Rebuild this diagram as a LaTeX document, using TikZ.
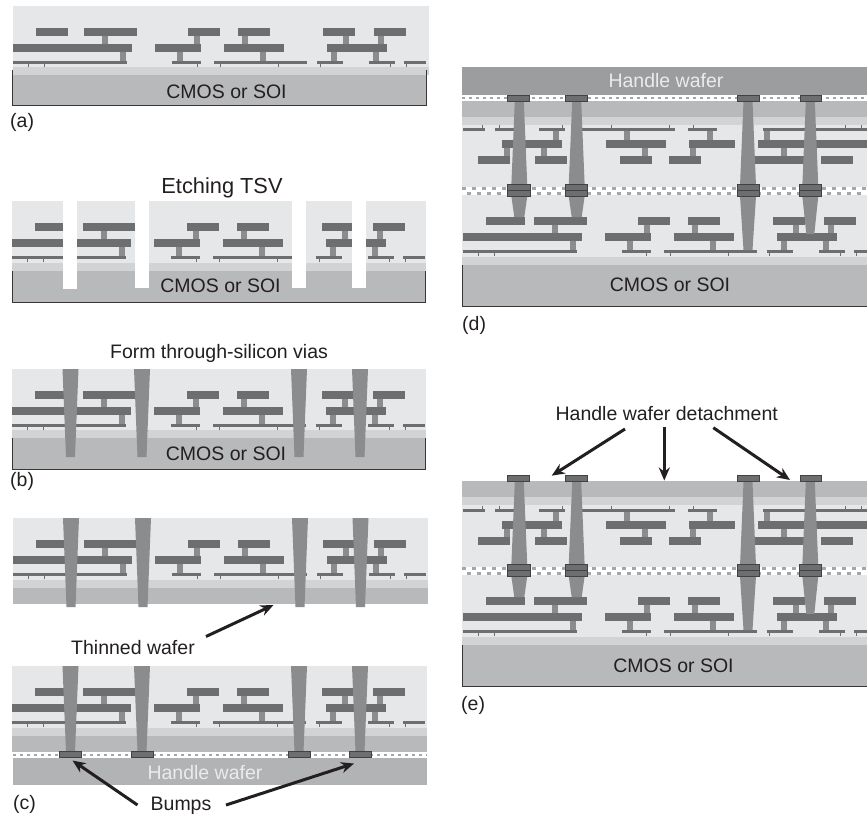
\documentclass[tikz,border=0pt]{standalone}
\usepackage{fontspec}
\setmainfont{Liberation Sans}
\usetikzlibrary{arrows.meta}
\definecolor{lightox}{HTML}{E6E7E8}
\definecolor{oxide}{HTML}{D1D3D4}
\definecolor{basegr}{HTML}{B8B9BB}
\definecolor{handlelt}{HTML}{B2B3B5}
\definecolor{handledk}{HTML}{9C9D9F}
\definecolor{metal}{HTML}{6D6E70}
\definecolor{viagr}{HTML}{8A8C8E}
\definecolor{squaregr}{HTML}{A5A6A8}
\definecolor{inkc}{HTML}{231F20}
\newcommand{\hbars}[3]{\foreach \pa/\pb in {#3} \fill[metal] (\pa,#1) rectangle (\pb,#2);}
\newcommand{\vbars}[3]{\foreach \pa/\pb in {#3} \fill[viagr] (\pa,#1) rectangle (\pb,#2);}
\newcommand{\stackup}[2]{\begin{scope}[shift={(#1,#2)}]
  \vbars{36}{44}{102/108,194/200,242/248,343/349,378/384}
  \vbars{52}{61}{120/126,177/183,260/266,331/337,373/379}
  \hbars{28}{36}{36/68,84/137,188/220,238/270,323/355,374/406}
  \hbars{44}{52}{13/132,155/201,224/284,327/387}
  \hbars{61}{64}{13/127,172/201,214/307,317/343,369/395,404/426}
  \foreach \pc in {28.5,44.5,197,220.5,278.5,320,390.5,406.5} \fill[metal] (\pc-.5,64) rectangle (\pc+.5,67);
\end{scope}}
\newcommand{\stackdown}[1]{\begin{scope}[shift={(0,#1)}]
  \vbars{148}{156}{504/510,541/547,642/648,690/696,781/787}
  \vbars{131}{140}{553/559,624/630,707/713,764/770}
  \hbars{156}{164}{478/510,535/567,620/652,669/701,752/805,821/853}
  \hbars{140}{148}{502/562,606/666,689/735,758/867}
  \hbars{128}{131}{463/485,495/521,539/565,582/675,688/717,763/867}
  \foreach \pc in {482.5,499,562,611,669,693,845,861} \fill[metal] (\pc-.5,125) rectangle (\pc+.5,128);
\end{scope}}
\newcommand{\wafer}[6]{% x1,x2,top,ox,base,bottom
  \fill[lightox] (#1,#3) rectangle (#2,#4);
  \fill[oxide] (#1,#4) rectangle (#2,#5);
  \fill[basegr] (#1,#5) rectangle (#2,#6);}
\newcommand{\rim}[4]{\draw[rimline] (#1,#3) -- (#1,#4) -- (#2,#4) -- (#2,#3);}
\newcommand{\tvia}[5]{\fill[viagr] (#1-#3/2,#2) -- (#1+#3/2,#2) -- (#1+#5/2,#4) -- (#1-#5/2,#4) -- cycle;}
\newcommand{\bumpbox}[4]{\fill[metal,draw=inkc!85,line width=.9pt] (#1,#3) rectangle (#2,#4);}
\newcommand{\dotlayer}[3]{% x1,x2,ytop
  \fill[white] (#1,#3) rectangle (#2,#3+5.5);
  \draw[dotline] (#1,#3+2.75) -- (#2,#3+2.75);}
\newcommand{\bondlayer}[3]{% x1,x2,ytop
  \fill[white] (#1,#3) rectangle (#2,#3+8);
  \draw[bondline] (#1,#3+1.5) -- (#2,#3+1.5);
  \draw[bondline,dash phase=5] (#1,#3+6.5) -- (#2,#3+6.5);}
\newcommand{\bondbump}[3]{\bumpbox{#1}{#2}{#3}{#3+12}\draw[inkc!85,line width=.9pt] (#1,#3+6) -- (#2,#3+6);}
\tikzset{
  x=1pt,y=-1pt,
  rimline/.style={draw=inkc!90,line width=1pt},
  dotline/.style={draw=squaregr,line width=2.4pt,dash pattern=on 3pt off 4pt},
  bondline/.style={draw=squaregr,line width=3pt,dash pattern=on 4pt off 6pt},
  lbl/.style={inner sep=0pt,text=inkc,font=\fontsize{19.5}{22}\selectfont},
  tag/.style={lbl,anchor=west},
  wlbl/.style={lbl,text=white!92!black},
  callout/.style={draw=inkc,line width=3pt,-{Stealth[length=13pt,width=11pt]},shorten >=0pt},
}
\begin{document}
\begin{tikzpicture}
\clip (0,0) rectangle (867,816);
\fill[white] (0,0) rectangle (867,816);

% panel (a)
\wafer{13}{429}{6}{67}{75}{105}
\fill[white] (426.5,75) rectangle (429.5,106);
\stackup{0}{0}
\rim{12.5}{426}{70}{105}
\node[lbl] (cmosa) at (226.5,92) {CMOS or SOI};
\node[tag] (taga) at (10,122) {(a)};

% etching panel
\wafer{12}{426}{201}{263}{271}{302}
\stackup{-1}{195}
\rim{12.5}{425.5}{271}{302}
\foreach \pa/\pb/\pc in {63/77/289,135/149/288,292/306/288,352/366/288}
  \fill[white] (\pa,200) rectangle (\pb,\pc);
\node[lbl,font=\fontsize{21.8}{24}\selectfont] (etch) at (222,188) {Etching TSV};
\node[lbl] (cmose) at (220.5,286) {CMOS or SOI};

% panel (b)
\wafer{12}{426}{369}{430}{438}{469}
\stackup{-1}{363}
\rim{12.5}{425.5}{438}{469}
\tvia{70.5}{369}{16}{457}{9}
\tvia{142}{369}{16}{457}{9}
\tvia{299}{369}{16}{457}{9}
\tvia{360}{369}{16}{457}{9}
\node[lbl] (form) at (219,353) {Form through-silicon vias};
\node[lbl] (cmosb) at (226,454) {CMOS or SOI};
\node[tag] (tagb) at (10,481) {(b)};

% panel (c) upper
\wafer{13}{428}{518}{580}{588}{604}
\stackup{0}{512}
\tvia{71}{518}{16}{607}{9}
\tvia{143}{518}{16}{607}{9}
\tvia{300}{518}{16}{607}{9}
\tvia{360.5}{518}{16}{607}{9}
\node[lbl] (thin) at (133,648) {Thinned wafer};
\coordinate (thinS) at (206,636.5);
\coordinate (thinT) at (273.5,605);
\draw[callout] (thinS) -- (thinT);

% panel (c) lower
\wafer{12}{427}{666}{728}{736}{752}
\stackup{-1}{660}
\tvia{70.5}{666}{16}{752}{9}
\tvia{142}{666}{16}{752}{9}
\tvia{299}{666}{16}{752}{9}
\tvia{360}{666}{16}{752}{9}
\dotlayer{13}{427}{752}
\fill[handlelt] (13,757.5) rectangle (427,785);
\bumpbox{59.5}{81}{751}{757.5}
\bumpbox{131.5}{153}{751}{757.5}
\bumpbox{288}{310}{751}{757.5}
\bumpbox{349.5}{371}{751}{757.5}
\node[wlbl] (handc) at (205,772.5) {Handle wafer};
\node[lbl] (bumps) at (181,806) {Bumps};
\node[tag] (tagc) at (13,804) {(c)};
\coordinate (bumpL) at (72.5,760.5);
\coordinate (bumpR) at (354,763.5);
\coordinate (bumpLs) at (137.5,805);
\coordinate (bumpRs) at (226,805);
\draw[callout] (bumpLs) -- (bumpL);
\draw[callout] (bumpRs) -- (bumpR);

% panel (d)
\fill[handledk] (462,67) rectangle (867,95);
\fill[basegr] (462,100.5) rectangle (867,117);
\fill[oxide] (462,117) rectangle (867,125);
\fill[lightox] (462,125) rectangle (867,187);
\fill[lightox] (462,195) rectangle (867,257);
\fill[oxide] (462,257) rectangle (867,265);
\fill[basegr] (462,265) rectangle (867,306);
\dotlayer{462}{867}{95}
\stackdown{0}
\stackup{449.5}{189}
\fill[metal] (518,217) rectangle (525,225);
\bondlayer{462}{867}{187}
\foreach \cx/\by/\bw in {519.3/217/10,576.7/217/10,748/250/9,810.3/234/8}{
  \tvia{\cx}{101}{9}{186}{16}
  \tvia{\cx}{196}{16}{\by}{\bw}
}
\foreach \bl/\br in {507.5/530,565/587,737.5/759.5,799/821}{\bondbump{\bl}{\br}{184.5}}
\foreach \bl/\br in {507.5/529,565.5/587.5,737/759,800/821.5}{\bumpbox{\bl}{\br}{95.5}{101.5}}
\rim{462}{880}{265}{306}
\node[wlbl] (handd) at (666,81) {Handle wafer};
\node[lbl] (cmosd) at (670,285) {CMOS or SOI};
\node[tag] (tagd) at (462,325) {(d)};

% panel (e)
\fill[basegr] (462,481) rectangle (867,497);
\fill[oxide] (462,497) rectangle (867,505);
\fill[lightox] (462,505) rectangle (867,567);
\fill[lightox] (462,575) rectangle (867,637);
\fill[oxide] (462,637) rectangle (867,645);
\fill[basegr] (462,645) rectangle (867,686);
\stackdown{381}
\stackup{449.5}{569}
\fill[metal] (518,597) rectangle (525,605);
\bondlayer{462}{867}{567}
\foreach \cx/\by/\bw in {519.3/597/10,576.7/597/10,748/630/9,810.3/614/8}{
  \tvia{\cx}{482}{9}{566}{16}
  \tvia{\cx}{576}{16}{\by}{\bw}
}
\foreach \bl/\br in {507.5/530,565/587,737.5/759.5,799/821}{\bondbump{\bl}{\br}{564.5}}
\foreach \bl/\br in {507.5/529,565.5/587.5,737/759,800/821.5}{\bumpbox{\bl}{\br}{475.5}{481.5}}
\rim{462}{880}{645}{686}
\node[lbl] (detach) at (666.7,414) {Handle wafer detachment};
\node[lbl] (cmosf) at (673.5,666) {CMOS or SOI};
\node[tag] (tage) at (461,705) {(e)};
\coordinate (detLs) at (625,429);
\coordinate (detLt) at (551.7,475.7);
\coordinate (detCs) at (664.3,427);
\coordinate (detCt) at (664.3,480.5);
\coordinate (detRs) at (713.3,427.7);
\coordinate (detRt) at (790,480);
\draw[callout] (detLs) -- (detLt);
\draw[callout] (detCs) -- (detCt);
\draw[callout] (detRs) -- (detRt);
\end{tikzpicture}
\end{document}
